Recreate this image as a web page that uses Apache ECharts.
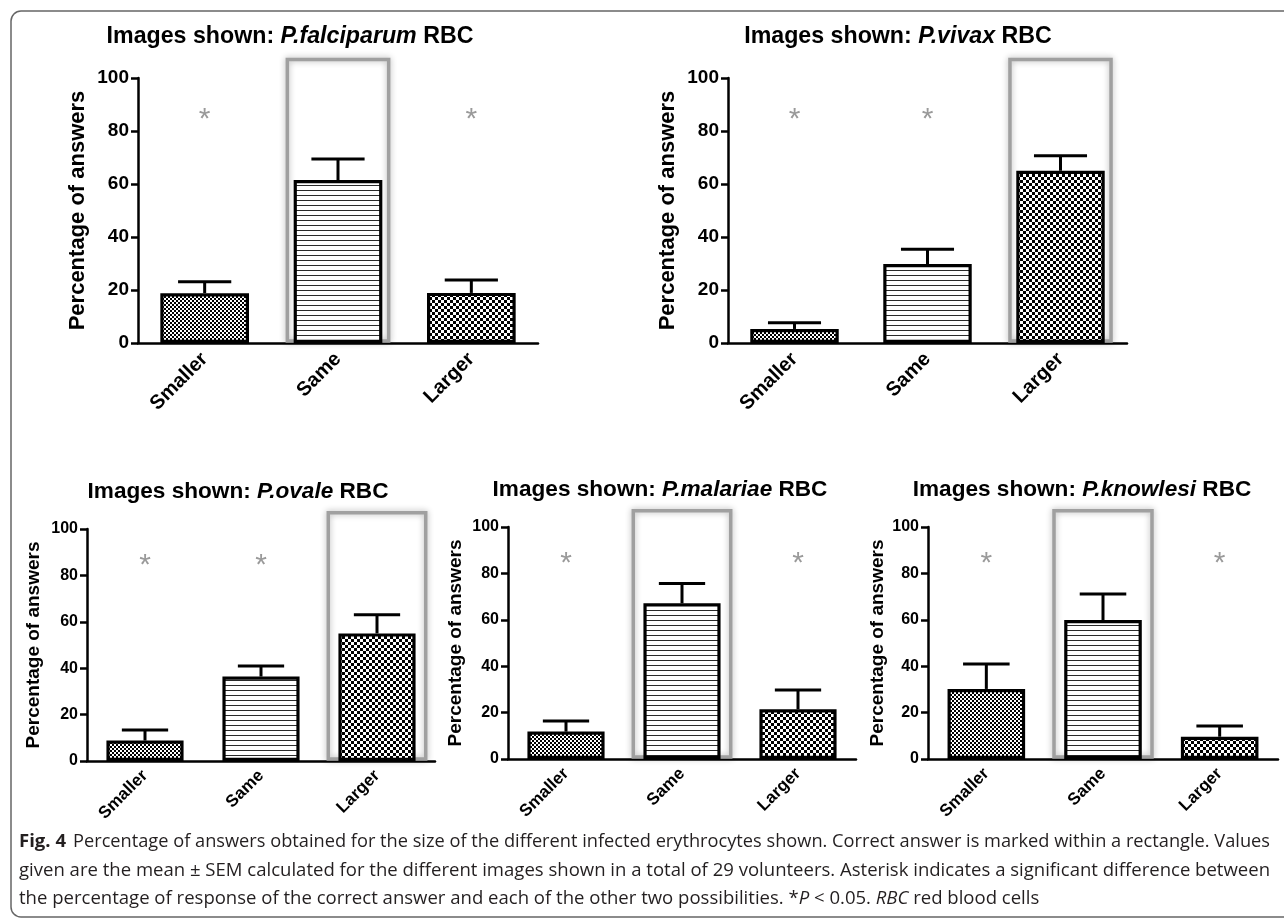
<!DOCTYPE html>
<html><head><meta charset="utf-8">
<script src="https://cdn.jsdelivr.net/npm/echarts@6/dist/echarts.min.js"></script>
<style>html,body{margin:0;padding:0;background:#fff}#c{width:1284px;height:919px}</style>
</head><body><div id="c"></div>
<script>
// ---------------- data ----------------
const categories = ['Smaller', 'Same', 'Larger'];
const species = ['P.falciparum', 'P.vivax', 'P.ovale', 'P.malariae', 'P.knowlesi'];
const falciparumMean = [18.8, 61.5, 18.9];
const falciparumSem  = [4.3, 7.9, 4.9];
const vivaxMean      = [5.3, 29.8, 65.0];
const vivaxSem       = [2.3, 5.6, 5.7];
const ovaleMean      = [8.8, 36.4, 55.0];
const ovaleSem       = [4.6, 4.5, 8.0];
const malariaeMean   = [11.8, 67.1, 21.4];
const malariaeSem    = [4.6, 8.5, 8.3];
const knowlesiMean   = [30.2, 59.9, 9.6];
const knowlesiSem    = [10.7, 11.2, 4.6];
const correctIndex   = [1, 2, 2, 1, 1];   // category marked within a rectangle
const yTickValues    = [0, 20, 40, 60, 80, 100];
const asteriskLevel  = 87;
const boxTopLevel    = 107;
const yAxisName      = 'Percentage of answers';
const captionLines = [
  'Percentage of answers obtained for the size of the different infected erythrocytes shown. Correct answer is marked within a rectangle. Values',
  'given are the mean \u00b1 SEM calculated for the different images shown in a total of 29 volunteers. Asterisk indicates a significant difference between',
  'the percentage of response of the correct answer and each of the other two possibilities. *{i|P} < 0.05. {i|RBC} red blood cells'
];
const means = [falciparumMean, vivaxMean, ovaleMean, malariaeMean, knowlesiMean];
const sems  = [falciparumSem, vivaxSem, ovaleSem, malariaeSem, knowlesiSem];

// ---------------- layout ----------------
const panels = [
  {left:138, top:78,  width:400, height:265, titleX:290,  titleY:37,  titleSize:23.2, tick:19, xl:20, name:22, nameX:77,  boxFrac:0.76, lm:13},
  {left:728, top:78,  width:399, height:265, titleX:898,  titleY:37,  titleSize:23.2, tick:19, xl:20, name:22, nameX:667, boxFrac:0.76, lm:13},
  {left:87,  top:529, width:348, height:232, titleX:238,  titleY:492, titleSize:22.6, tick:16, xl:17, name:19, nameX:33,  boxFrac:0.84, lm:12},
  {left:508, top:527, width:348, height:232, titleX:660,  titleY:490, titleSize:22.6, tick:16, xl:17, name:19, nameX:455, boxFrac:0.84, lm:12},
  {left:928, top:527, width:350, height:232, titleX:1082, titleY:490, titleSize:22.6, tick:16, xl:17, name:19, nameX:877, boxFrac:0.84, lm:12}
];
const FONT = '"Liberation Sans", Arial, sans-serif';
const BAR_FRAC = 0.665, CAP_FRAC = 0.6;

function checker(cell) {
  const c = document.createElement('canvas'); c.width = c.height = cell * 2;
  const g = c.getContext('2d'); g.fillStyle = '#fff'; g.fillRect(0, 0, c.width, c.height);
  g.fillStyle = '#000'; g.fillRect(0, 0, cell, cell); g.fillRect(cell, cell, cell, cell);
  return c;
}
function stripes(period) {
  const c = document.createElement('canvas'); c.width = 4; c.height = period;
  const g = c.getContext('2d'); g.fillStyle = '#fff'; g.fillRect(0, 0, 4, period);
  g.fillStyle = '#2a2a2a'; g.fillRect(0, 0, 4, 1);
  return c;
}
const patterns = [checker(2), stripes(5), checker(3)];

const grid = [], xAxis = [], yAxis = [], series = [], title = [];
panels.forEach((p, k) => {
  grid.push({left: p.left, top: p.top, width: p.width, height: p.height, containLabel: false});
  xAxis.push({
    type: 'category', gridIndex: k, data: categories, boundaryGap: true,
    axisLine: {lineStyle: {color: '#000', width: 2.5}},
    axisTick: {alignWithLabel: true, length: 7, lineStyle: {color: '#000', width: 2.5}},
    axisLabel: {rotate: 45, interval: 0, margin: p.lm, color: '#000', fontWeight: 'bold', fontSize: p.xl, fontFamily: FONT}
  });
  yAxis.push({
    type: 'value', gridIndex: k, min: yTickValues[0], max: yTickValues[yTickValues.length - 1],
    interval: yTickValues[1] - yTickValues[0],
    name: yAxisName, nameLocation: 'middle', nameGap: p.left - p.nameX - p.name * 0.55,
    nameTextStyle: {color: '#000', fontWeight: 'bold', fontSize: p.name, fontFamily: FONT},
    axisLine: {show: true, lineStyle: {color: '#000', width: 2.5}},
    axisTick: {show: true, length: 7, lineStyle: {color: '#000', width: 2.5}},
    splitLine: {show: false},
    axisLabel: {margin: 9, color: '#000', fontWeight: 'bold', fontSize: p.tick, fontFamily: FONT}
  });
  title.push({
    text: 'Images shown: {i|' + species[k] + '} RBC',
    left: p.titleX, top: p.titleY - p.titleSize * 0.6, textAlign: 'center', padding: 0,
    textStyle: {color: '#000', fontWeight: 'bold', fontSize: p.titleSize, fontFamily: FONT,
      lineHeight: p.titleSize * 1.2,
      rich: {i: {fontStyle: 'italic', fontWeight: 'bold', fontSize: p.titleSize, fontFamily: FONT, color: '#000', lineHeight: p.titleSize * 1.2}}}
  });
  // highlight rectangle
  series.push({
    type: 'custom', xAxisIndex: k, yAxisIndex: k, z: 1, clip: false, silent: true,
    data: [[correctIndex[k], boxTopLevel]],
    renderItem: (params, api) => {
      const t = api.coord([api.value(0), api.value(1)]);
      const b = api.coord([api.value(0), 0]);
      const w = api.size([1, 0])[0] * p.boxFrac;
      return {type: 'rect', shape: {x: t[0] - w / 2, y: t[1], width: w, height: b[1] - t[1] - 2},
        style: {fill: 'none', stroke: '#a0a0a0', lineWidth: 3.5, shadowBlur: 6, shadowColor: 'rgba(0,0,0,0.3)'}};
    }
  });
  // bars
  series.push({
    type: 'bar', xAxisIndex: k, yAxisIndex: k, z: 2, barWidth: (BAR_FRAC * 100) + '%', silent: true,
    data: means[k].map((v, i) => ({value: v, itemStyle: {color: {image: patterns[i], repeat: 'repeat'}}})),
    itemStyle: {borderColor: '#000', borderWidth: 3.2}
  });
  // error bars (mean + SEM)
  series.push({
    type: 'custom', xAxisIndex: k, yAxisIndex: k, z: 3, clip: false, silent: true,
    data: means[k].map((v, i) => [i, v, v + sems[k][i]]),
    encode: {x: 0, y: 1},
    renderItem: (params, api) => {
      const base = api.coord([api.value(0), api.value(1)]);
      const top = api.coord([api.value(0), api.value(2)]);
      const half = api.size([1, 0])[0] * BAR_FRAC * CAP_FRAC / 2;
      return {type: 'group', children: [
        {type: 'line', shape: {x1: top[0], y1: base[1], x2: top[0], y2: top[1]}, style: {stroke: '#000', lineWidth: 3}},
        {type: 'line', shape: {x1: top[0] - half, y1: top[1], x2: top[0] + half, y2: top[1]}, style: {stroke: '#000', lineWidth: 3}}
      ]};
    }
  });
  // asterisks for the non-correct categories
  series.push({
    type: 'custom', xAxisIndex: k, yAxisIndex: k, z: 3, clip: false, silent: true,
    data: categories.map((c, i) => i).filter(i => i !== correctIndex[k]).map(i => [i, asteriskLevel]),
    renderItem: (params, api) => {
      const c = api.coord([api.value(0), api.value(1)]);
      const fs = 30;
      return {type: 'text', x: c[0], y: c[1] + fs * 0.23,
        style: {text: '*', fontSize: fs, fontFamily: FONT, fill: '#9a9a9a', align: 'center', verticalAlign: 'middle'}};
    }
  });
});

// caption fitting
const CAP_FONT = '"Open Sans", sans-serif', CAP_SIZE = 17.5;
const mctx = document.createElement('canvas').getContext('2d');
mctx.font = CAP_SIZE + 'px ' + CAP_FONT;
const sx1 = (1270 - 73) / mctx.measureText(captionLines[0]).width;
const sx2 = (1270 - 19) / mctx.measureText(captionLines[1]).width;
const captionY = [842, 871, 899];

const graphic = [
  {type: 'rect', silent: true, shape: {x: 11, y: 11, width: 1300, height: 906, r: 10},
   style: {fill: 'none', stroke: '#666', lineWidth: 1.5}},
  {type: 'text', x: 19, y: captionY[0], silent: true,
   style: {text: 'Fig. 4', font: 'bold ' + CAP_SIZE + 'px ' + CAP_FONT, fill: '#231f20', verticalAlign: 'middle'}, scaleX: sx2},
  {type: 'text', x: 73, y: captionY[0], scaleX: sx1, silent: true,
   style: {text: captionLines[0], font: CAP_SIZE + 'px ' + CAP_FONT, fill: '#231f20', verticalAlign: 'middle'}},
  {type: 'text', x: 19, y: captionY[1], scaleX: sx2, silent: true,
   style: {text: captionLines[1], font: CAP_SIZE + 'px ' + CAP_FONT, fill: '#231f20', verticalAlign: 'middle'}},
  {type: 'text', x: 19, y: captionY[2], scaleX: sx2, silent: true,
   style: {text: captionLines[2], font: CAP_SIZE + 'px ' + CAP_FONT, fill: '#231f20', verticalAlign: 'middle',
     rich: {i: {fontStyle: 'italic', fontSize: CAP_SIZE, fontFamily: CAP_FONT, fill: '#231f20'}}}}
];

const chart = echarts.init(document.getElementById('c'), null, {renderer: 'canvas'});
chart.setOption({animation: false, backgroundColor: '#fff', title, grid, xAxis, yAxis, series, graphic});
</script></body></html>
